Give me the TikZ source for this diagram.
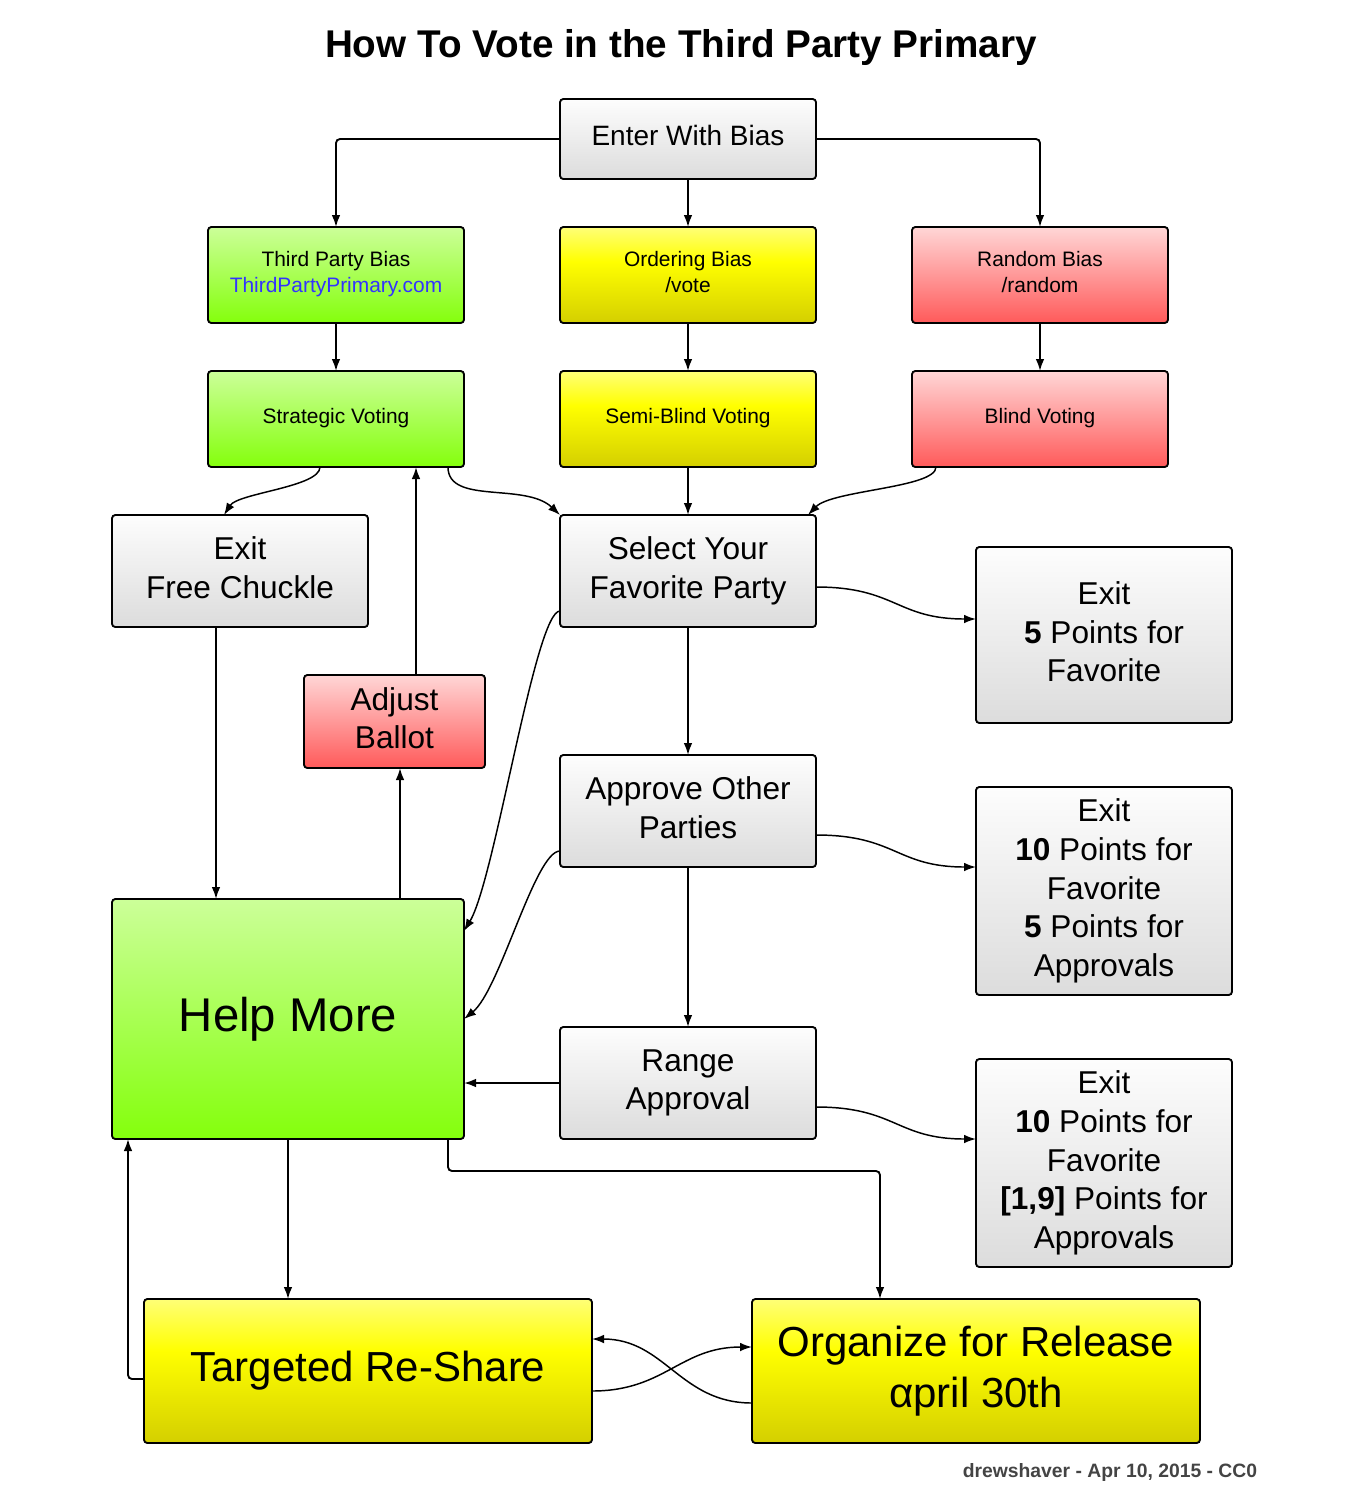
\documentclass[tikz,border=0pt]{standalone}
\usepackage{fontspec}
\setmainfont{Liberation Sans}
\usetikzlibrary{arrows.meta}
\definecolor{grTop}{HTML}{FDFDFD}
\definecolor{grBot}{HTML}{DCDCDC}
\definecolor{gnTop}{HTML}{CCFF99}
\definecolor{gnBot}{HTML}{84FF0C}
\definecolor{ylTop}{HTML}{FFFF77}
\definecolor{ylMid}{HTML}{FFFF00}
\definecolor{ylBot}{HTML}{D4CF00}
\definecolor{rdTop}{HTML}{FFD6D6}
\definecolor{rdBot}{HTML}{FF5A5A}
\definecolor{linkblue}{HTML}{3333FF}
\definecolor{footgray}{HTML}{444444}
\pgfdeclareverticalshading{ylshade}{100bp}{color(0bp)=(ylBot); color(25bp)=(ylBot); color(57bp)=(ylMid); color(75bp)=(ylTop); color(100bp)=(ylTop)}
\tikzset{
  box/.style={draw=black, line width=1.4pt, rounded corners=2.5pt, inner sep=0pt, outer sep=0pt, align=center, text=black,
    execute at end node={\rule[-5pt]{0pt}{5pt}}},
  grbox/.style={box, top color=grTop, bottom color=grBot},
  gnbox/.style={box, top color=gnTop, bottom color=gnBot},
  ylbox/.style={box, shading=ylshade},
  rdbox/.style={box, top color=rdTop, bottom color=rdBot},
  smbox/.style={minimum width=192pt, minimum height=72pt, font=\fontsize{15.7}{19.5}\selectfont},
  mdbox/.style={minimum width=192pt, minimum height=84pt, font=\fontsize{23.7}{29}\selectfont},
  exbox/.style={minimum width=192pt, font=\fontsize{23.7}{29}\selectfont},
  bigbox/.style={minimum width=336pt, minimum height=108pt, font=\fontsize{31.5}{38.3}\selectfont},
  conn/.style={draw=black, line width=1.4pt, rounded corners=3pt, -{Latex[length=9pt,width=6.5pt]}},
  curv/.style={draw=black, line width=1.1pt, -{Latex[length=9pt,width=6.5pt]}}
}
\begin{document}
\begin{tikzpicture}[x=0.75pt, y=-0.75pt]
\useasboundingbox (0,0) rectangle (1352,1507);
% title and footer
\node[font=\fontsize{29}{35}\selectfont\bfseries] (title) at (681,47) {How To Vote in the Third Party Primary};
\node[font=\fontsize{14.5}{17}\selectfont\bfseries, text=footgray] (footer) at (1110,1472) {drewshaver - Apr 10, 2015 - CC0};
% nodes
\node[grbox, minimum width=192pt, minimum height=60pt, font=\fontsize{21}{25}\selectfont] (enter) at (688,139) {Enter With Bias};
\node[gnbox, smbox] (tpb) at (336,275) {Third Party Bias\\\textcolor{linkblue}{ThirdPartyPrimary.com}};
\node[ylbox, smbox] (ordb) at (688,275) {Ordering Bias\\/vote};
\node[rdbox, smbox] (randb) at (1040,275) {Random Bias\\/random};
\node[gnbox, smbox] (strat) at (336,419) {Strategic Voting};
\node[ylbox, smbox] (semi) at (688,419) {Semi-Blind Voting};
\node[rdbox, smbox] (blind) at (1040,419) {Blind Voting};
\node[grbox, mdbox] (exitfc) at (240,571) {Exit\\Free Chuckle};
\node[grbox, mdbox] (select) at (688,571) {Select Your\\Favorite Party};
\node[grbox, exbox, minimum height=132pt] (exit5) at (1104,635) {Exit\\\textbf{5} Points for\\Favorite};
\node[rdbox, minimum width=135.75pt, minimum height=69.75pt, font=\fontsize{23.7}{29}\selectfont] (adjust) at (394.5,721.5) {Adjust\\Ballot};
\node[grbox, mdbox] (approve) at (688,811) {Approve Other\\Parties};
\node[grbox, exbox, minimum height=156pt] (exit10) at (1104,891) {Exit\\\textbf{10} Points for\\Favorite\\\textbf{5} Points for\\Approvals};
\node[gnbox, minimum width=264pt, minimum height=180pt, font=\fontsize{35.5}{42}\selectfont] (help) at (288,1019) {Help More};
\node[grbox, mdbox] (range) at (688,1083) {Range\\Approval};
\node[grbox, exbox, minimum height=156pt] (exit19) at (1104,1163) {Exit\\\textbf{10} Points for\\Favorite\\\textbf{[1,9]} Points for\\Approvals};
\node[ylbox, bigbox] (target) at (368,1371) {Targeted Re-Share};
\node[ylbox, bigbox] (organize) at (976,1371) {Organize for Release\\αpril 30th};
% straight connectors
\draw[conn] (enter.west) -| (tpb.north);
\draw[conn] (enter.east) -| (randb.north);
\draw[conn] (enter.south) -- (ordb.north);
\draw[conn] (tpb.south) -- (strat.north);
\draw[conn] (ordb.south) -- (semi.north);
\draw[conn] (randb.south) -- (blind.north);
\draw[conn] (semi.south) -- (select.north);
\draw[conn] (select.south) -- (approve.north);
\draw[conn] (approve.south) -- (range.north);
\draw[conn] (range.west |- 0,1083) -- (help.east |- 0,1083);
\draw[conn] (exitfc.south -| 216,0) -- (help.north -| 216,0);
\draw[conn] (help.north -| 400,0) -- (adjust.south -| 400,0);
\draw[conn] (adjust.north -| 416,0) -- (strat.south -| 416,0);
\draw[conn] (help.south -| 288,0) -- (target.north -| 288,0);
\draw[conn] (help.south -| 448,0) |- (880,1171) -- (organize.north -| 880,0);
\draw[conn] (target.west |- 0,1379) -| (help.south -| 128,0);
% curved connectors
\draw[curv] (strat.south -| 320,0) .. controls (320,487) and (238,493) .. (exitfc.north -| 224,0);
\draw[curv] (strat.south -| 448,0) .. controls (448,505) and (525,482) .. (select.north west);
\draw[curv] (blind.south -| 936,0) .. controls (936,488) and (832,490) .. (select.north -| 808,0);
\draw[curv] (select.east |- 0,587) .. controls (896,587) and (896,619) .. (exit5.west |- 0,619);
\draw[curv] (approve.east |- 0,835) .. controls (896,835) and (896,867) .. (exit10.west |- 0,867);
\draw[curv] (range.east |- 0,1107) .. controls (896,1107) and (896,1139) .. (exit19.west |- 0,1139);
\draw[curv] (select.west |- 0,611) .. controls (535,611) and (495,880) .. (help.east |- 0,931);
\draw[curv] (approve.west |- 0,851) .. controls (535,851) and (500,990) .. (help.east |- 0,1019);
\draw[curv] (target.east |- 0,1391) .. controls (665,1391) and (680,1347) .. (organize.west |- 0,1347);
\draw[curv] (organize.west |- 0,1403) .. controls (680,1403) and (665,1339) .. (target.east |- 0,1339);
\end{tikzpicture}
\end{document}
